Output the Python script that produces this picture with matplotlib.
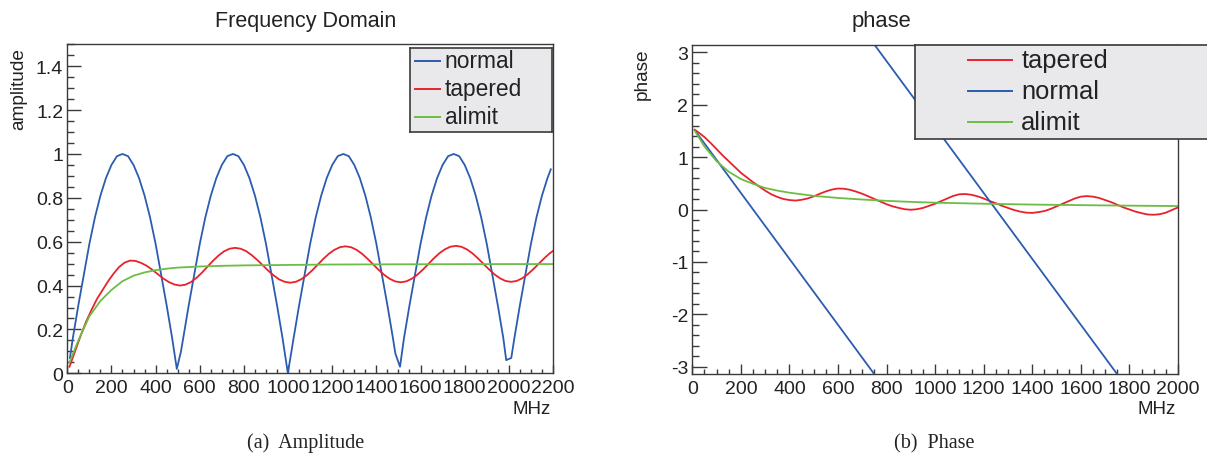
# amplitude and phase of the normal / tapered pulse against the alimit curve

import numpy as np
import matplotlib.pyplot as plt
from matplotlib.ticker import MultipleLocator, FuncFormatter

plt.rcParams['font.family'] = ['Liberation Sans', 'DejaVu Sans']
plt.rcParams['axes.unicode_minus'] = False

# ---- amplitude spectrum ----
amp_freq_normal = [12, 25, 50, 75, 100, 125, 150, 175, 200, 225, 250, 275, 300, 325, 350, 375, 400, 425, 450, 475,
                   496, 515, 525, 550, 575, 600, 625, 650, 675, 700, 725, 750, 775, 800, 825, 850, 875, 900, 925, 950, 975,
                   999, 1025, 1050, 1075, 1100, 1125, 1150, 1175, 1200, 1225, 1250, 1275, 1300, 1325, 1350, 1375, 1400,
                   1425, 1450, 1475, 1486, 1507, 1525, 1550, 1575, 1600, 1625, 1650, 1675, 1700, 1725, 1750, 1775, 1800,
                   1825, 1850, 1875, 1900, 1925, 1950, 1975, 1988, 2011, 2025, 2050, 2075, 2100, 2125, 2150, 2175, 2190]
amp_normal = [0.07, 0.16, 0.31, 0.45, 0.59, 0.71, 0.81, 0.89, 0.95, 0.99, 1.00, 0.99, 0.95, 0.89, 0.81, 0.71, 0.59, 0.45, 0.31, 0.16,
              0.02, 0.10, 0.16, 0.31, 0.45, 0.59, 0.71, 0.81, 0.89, 0.95, 0.99, 1.00, 0.99, 0.95, 0.89, 0.81, 0.71, 0.59, 0.45, 0.31, 0.16,
              0.00, 0.16, 0.31, 0.45, 0.59, 0.71, 0.81, 0.89, 0.95, 0.99, 1.00, 0.99, 0.95, 0.89, 0.81, 0.71, 0.59,
              0.45, 0.31, 0.16, 0.09, 0.03, 0.16, 0.31, 0.45, 0.59, 0.71, 0.81, 0.89, 0.95, 0.99, 1.00, 0.99, 0.95,
              0.89, 0.81, 0.71, 0.59, 0.45, 0.31, 0.16, 0.06, 0.07, 0.16, 0.31, 0.45, 0.59, 0.71, 0.81, 0.89, 0.93]

amp_freq_tapered = [10, 35, 60, 85, 110, 135, 160, 185, 210, 235, 260, 285, 310, 335, 360, 385, 410, 435, 460, 485,
                    510, 535, 560, 585, 610, 635, 660, 685, 710, 735, 760, 785, 810, 835, 860, 885, 910, 935, 960, 985,
                    1010, 1035, 1060, 1085, 1110, 1135, 1160, 1185, 1210, 1235, 1260, 1285, 1310, 1335, 1360, 1385,
                    1410, 1435, 1460, 1485, 1510, 1535, 1560, 1585, 1610, 1635, 1660, 1685, 1710, 1735, 1760, 1785,
                    1810, 1835, 1860, 1885, 1910, 1935, 1960, 1985, 2010, 2035, 2060, 2085, 2110, 2135, 2160, 2185, 2200]
amp_tapered = [0.03, 0.10, 0.17, 0.235, 0.29, 0.34, 0.38, 0.42, 0.455, 0.485, 0.505, 0.514, 0.512, 0.503, 0.49,
               0.472, 0.452, 0.432, 0.416, 0.405, 0.40, 0.404, 0.416, 0.435, 0.459, 0.486, 0.513, 0.537, 0.556, 0.568,
               0.572, 0.568, 0.557, 0.539, 0.517, 0.493, 0.468, 0.446, 0.428, 0.417, 0.413, 0.417, 0.429, 0.447, 0.470,
               0.496, 0.522, 0.545, 0.563, 0.575, 0.579, 0.575, 0.563, 0.545, 0.522, 0.497, 0.472, 0.449, 0.431, 0.419,
               0.415, 0.419, 0.431, 0.449, 0.472, 0.498, 0.524, 0.547, 0.565, 0.577, 0.581, 0.577, 0.565, 0.547, 0.524,
               0.499, 0.474, 0.451, 0.433, 0.421, 0.417, 0.421, 0.433, 0.451, 0.474, 0.499, 0.524, 0.547, 0.558]

amp_freq_alimit = [10, 50, 100, 150, 200, 250, 300, 350, 400, 450, 500, 600, 700, 800, 1000, 1200, 1500, 2000, 2200]
amp_alimit = [0.05, 0.15, 0.26, 0.33, 0.38, 0.42, 0.445, 0.46, 0.47, 0.477, 0.482, 0.487, 0.49, 0.492, 0.494,
              0.496, 0.497, 0.498, 0.498]

# ---- phase ----
ph_freq_normal = [10, 750, np.nan, 750, 1750, np.nan, 1750, 2000]
ph_normal = [1.51, -3.14, np.nan, 3.14, -3.14, np.nan, 3.14, 1.57]

ph_freq_tapered = [10, 25, 50, 75, 100, 125, 150, 175, 200, 225, 250, 275, 300, 325, 350, 375, 400, 425, 450, 475,
                   500, 525, 550, 575, 600, 625, 650, 675, 700, 725, 750, 775, 800, 825, 850, 875, 900, 925, 950, 975,
                   1000, 1025, 1050, 1075, 1100, 1125, 1150, 1175, 1200, 1225, 1250, 1275, 1300, 1325, 1350, 1375,
                   1400, 1425, 1450, 1475, 1500, 1525, 1550, 1575, 1600, 1625, 1650, 1675, 1700, 1725, 1750, 1775,
                   1800, 1825, 1850, 1875, 1900, 1925, 1950, 1975, 2000]
ph_tapered = [1.52, 1.47, 1.38, 1.27, 1.15, 1.03, 0.92, 0.81, 0.70, 0.61, 0.52, 0.44, 0.36, 0.29, 0.24, 0.20, 0.18,
              0.17, 0.185, 0.21, 0.25, 0.30, 0.345, 0.38, 0.40, 0.395, 0.375, 0.34, 0.30, 0.25, 0.20, 0.15, 0.10,
              0.06, 0.03, 0.005, -0.005, 0.005, 0.03, 0.07, 0.11, 0.16, 0.21, 0.26, 0.29, 0.295, 0.28, 0.25, 0.21,
              0.16, 0.12, 0.07, 0.03, -0.01, -0.04, -0.06, -0.065, -0.05, -0.03, 0.01, 0.06, 0.11, 0.16, 0.21, 0.245,
              0.255, 0.245, 0.22, 0.18, 0.14, 0.09, 0.04, 0.0, -0.04, -0.07, -0.095, -0.10, -0.09, -0.06, -0.01, 0.04]

ph_freq_alimit = [10, 50, 100, 150, 200, 250, 300, 350, 400, 450, 500, 600, 700, 800, 900, 1000, 1200, 1400, 1600,
                  1800, 2000]
ph_alimit = [1.50, 1.20, 0.92, 0.72, 0.58, 0.49, 0.41, 0.36, 0.32, 0.29, 0.26, 0.22, 0.19, 0.165, 0.145, 0.13,
             0.11, 0.094, 0.083, 0.073, 0.066]

BLUE = '#2c5caf'
RED = '#e8222b'
GREEN = '#6dbd45'
FRAME = '#3a3a3a'
TEXT = '#222222'

W, H = 1207, 456
fig = plt.figure(figsize=(W / 100, H / 100), dpi=100)


def px_axes(x0, y0, x1, y1):
    # box given in pixels, origin at the top left
    return fig.add_axes([x0 / W, 1 - y1 / H, (x1 - x0) / W, (y1 - y0) / H])


def px_text(x, y, s, **kw):
    fig.text(x / W, 1 - y / H, s, color=TEXT, **kw)


def style_axes(ax, xmaj, xmin, ymaj, ymin, ylen, xlen):
    for sp in ax.spines.values():
        sp.set_color(FRAME)
        sp.set_linewidth(1.0)
    ax.xaxis.set_major_locator(MultipleLocator(xmaj))
    ax.xaxis.set_minor_locator(MultipleLocator(xmin))
    ax.yaxis.set_major_locator(MultipleLocator(ymaj))
    ax.yaxis.set_minor_locator(MultipleLocator(ymin))
    ax.xaxis.set_major_formatter(FuncFormatter(lambda v, p: '%g' % v))
    ax.yaxis.set_major_formatter(FuncFormatter(lambda v, p: '%g' % round(v, 2)))
    ax.tick_params(which='both', direction='in', top=False, right=False, colors=FRAME,
                   labelcolor=TEXT, labelsize=14, width=1.0)
    ax.tick_params(axis='y', which='major', length=ylen, pad=3)
    ax.tick_params(axis='y', which='minor', length=ylen / 2)
    ax.tick_params(axis='x', which='major', length=xlen, pad=4)
    ax.tick_params(axis='x', which='minor', length=xlen / 2)


def legend_box(x0, y0, x1, y1, entries, rows, line_x, text_x, size):
    lg = px_axes(x0, y0, x1, y1)
    lg.set_xlim(x0, x1)
    lg.set_ylim(y1, y0)
    lg.set_facecolor('#e9e9ec')
    lg.set_xticks([])
    lg.set_yticks([])
    for sp in lg.spines.values():
        sp.set_color(FRAME)
        sp.set_linewidth(1.2)
    for (label, color), ry in zip(entries, rows):
        lg.plot(line_x, [ry, ry], color=color, lw=1.4)
        lg.text(text_x, ry + 0.26 * size / 0.72, label, fontsize=size, color=TEXT, va='baseline', ha='left')
    return lg


# (a) amplitude
ax1 = px_axes(67.3, 45.3, 553, 374.3)
ax1.plot(amp_freq_normal, amp_normal, color=BLUE, lw=1.3)
ax1.plot(amp_freq_tapered, amp_tapered, color=RED, lw=1.3)
ax1.plot(amp_freq_alimit, amp_alimit, color=GREEN, lw=1.3)
ax1.set_xlim(0, 2200)
ax1.set_ylim(0, 1.5)
style_axes(ax1, 200, 50, 0.2, 0.05, 10, 6)

legend_box(410, 48.6, 552, 133, [('normal', BLUE), ('tapered', RED), ('alimit', GREEN)],
           [61.7, 90, 118], [415, 440], 444.7, 16.4)

px_text(306, 27, 'Frequency Domain', fontsize=15.5, ha='center', va='baseline')
px_text(19, 48, 'amplitude', fontsize=13.7, rotation=90, ha='center', va='top')
px_text(551, 414, 'MHz', fontsize=13.5, ha='right', va='baseline')
px_text(306, 448, '(a)  Amplitude', fontsize=14.5, ha='center', va='baseline',
        family=['Liberation Serif', 'DejaVu Serif'])

# (b) phase
ax2 = px_axes(692.3, 45.6, 1178, 375.4)
ax2.plot(ph_freq_tapered, ph_tapered, color=RED, lw=1.3)
ax2.plot(ph_freq_normal, ph_normal, color=BLUE, lw=1.3)
ax2.plot(ph_freq_alimit, ph_alimit, color=GREEN, lw=1.3)
ax2.set_xlim(0, 2000)
ax2.set_ylim(-np.pi, np.pi)
style_axes(ax2, 200, 50, 1, 0.2, 10.5, 7)

legend_box(915, 45.7, 1220, 139.7, [('tapered', RED), ('normal', BLUE), ('alimit', GREEN)],
           [61, 92.3, 123.3], [968, 1011.7], 1021.3, 18.4)

px_text(881, 27, 'phase', fontsize=15.8, ha='center', va='baseline')
px_text(642, 48, 'phase', fontsize=13.7, rotation=90, ha='center', va='top')
px_text(1176, 414, 'MHz', fontsize=13.5, ha='right', va='baseline')
px_text(934, 448, '(b)  Phase', fontsize=14.5, ha='center', va='baseline',
        family=['Liberation Serif', 'DejaVu Serif'])

fig.savefig('out.png', dpi=100)
